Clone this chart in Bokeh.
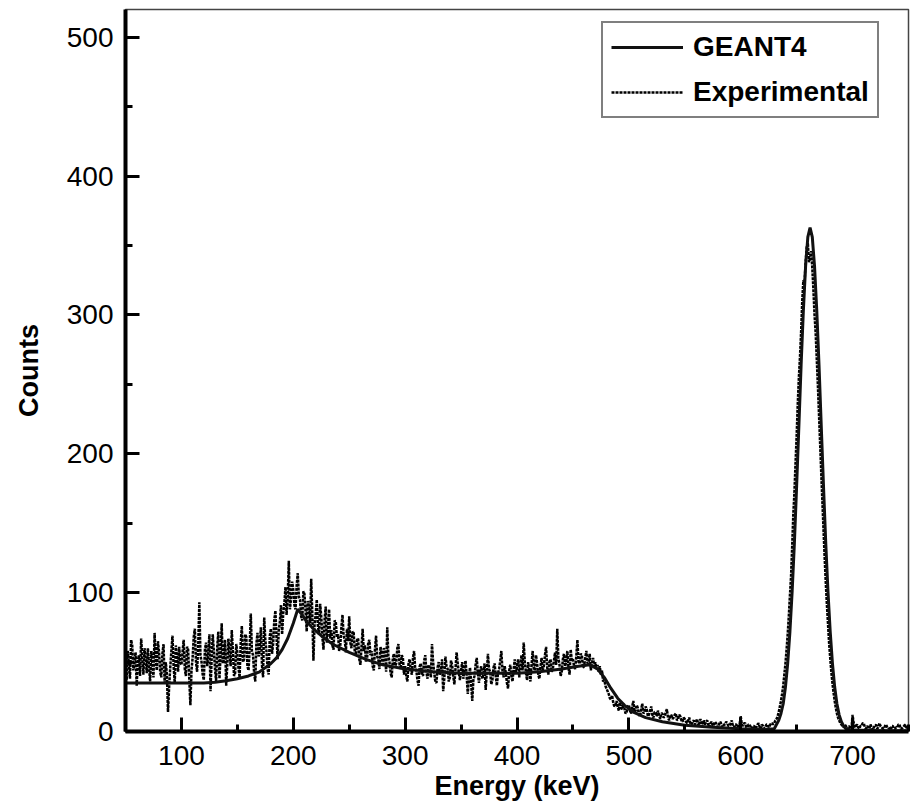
from bokeh.plotting import figure
from bokeh.models import Range1d, Legend, LegendItem, FixedTicker
from bokeh.embed import file_html
from bokeh.resources import INLINE

# ---------------- data ----------------
exp_energy = list(range(50, 751))  # 1 keV bins, 50..750
exp_counts = [
    # 50-99
    45, 37, 58, 49, 38, 66, 62, 44, 49, 57, 33, 51, 55, 40, 67, 53, 41, 60, 52, 42,
    60, 47, 36, 58, 48, 39, 71, 52, 44, 65, 57, 43, 39, 56, 63, 35, 50, 41, 14, 32,
    46, 58, 69, 47, 35, 62, 54, 43, 61, 49,
    # 100-149
    48, 57, 66, 45, 40, 61, 59, 38, 19, 44, 53, 68, 74, 50, 43, 62, 93, 55, 50, 41,
    37, 59, 64, 47, 56, 70, 29, 52, 70, 58, 45, 36, 61, 72, 38, 55, 78, 49, 52, 66,
    33, 48, 67, 56, 47, 73, 58, 40, 42, 63,
    # 150-199
    57, 46, 39, 64, 76, 50, 52, 70, 68, 47, 44, 60, 85, 58, 55, 42, 36, 63, 71, 54,
    60, 75, 48, 39, 82, 66, 58, 45, 41, 69, 74, 56, 63, 80, 87, 68, 52, 73, 79, 91,
    70, 85, 92, 104, 84, 97, 123, 88, 96, 108,
    # 200-249
    102, 91, 88, 105, 114, 97, 95, 83, 80, 101, 99, 86, 72, 94, 90, 78, 110, 85, 51, 77,
    84, 95, 76, 70, 92, 83, 68, 59, 81, 90, 64, 74, 88, 67, 73, 62, 59, 80, 79, 68,
    70, 58, 62, 75, 84, 69, 66, 57, 74, 65,
    # 250-299
    83, 64, 60, 72, 71, 57, 55, 66, 67, 52, 48, 61, 74, 58, 62, 50, 53, 64, 66, 55,
    58, 47, 44, 59, 69, 54, 52, 45, 61, 56, 47, 60, 57, 43, 75, 55, 50, 42, 39, 53,
    56, 46, 49, 60, 63, 48, 45, 55, 53, 41,
    # 300-349
    47, 40, 36, 49, 52, 44, 41, 53, 58, 45, 44, 37, 33, 47, 49, 42, 40, 51, 55, 43,
    38, 48, 46, 39, 63, 50, 42, 36, 35, 46, 50, 41, 43, 52, 29, 38, 54, 47, 45, 36,
    39, 51, 48, 40, 34, 45, 57, 49, 42, 37,
    # 350-399
    44, 50, 38, 45, 51, 40, 27, 39, 46, 35, 22, 37, 40, 48, 53, 42, 35, 44, 47, 38,
    41, 49, 30, 43, 56, 45, 43, 34, 37, 46, 49, 40, 33, 42, 45, 51, 58, 44, 39, 47,
    42, 35, 31, 44, 48, 40, 36, 45, 52, 43,
    # 400-449
    46, 52, 39, 47, 55, 44, 64, 50, 42, 37, 50, 43, 36, 48, 58, 46, 44, 55, 49, 41,
    38, 47, 53, 44, 47, 55, 61, 46, 41, 50, 52, 43, 45, 51, 57, 48, 74, 53, 48, 40,
    43, 52, 56, 47, 50, 58, 46, 41, 59, 51,
    # 450-499
    52, 47, 45, 54, 66, 50, 49, 56, 55, 46, 47, 53, 58, 49, 50, 56, 44, 49, 53, 47,
    50, 45, 48, 43, 47, 41, 44, 36, 38, 33, 31, 29, 27, 24, 23, 26, 21, 18, 19, 22,
    18, 15, 21, 17, 16, 20, 17, 13, 14, 18,
    # 500-549
    19, 15, 13, 18, 22, 14, 15, 19, 17, 12, 11, 16, 20, 13, 14, 18, 16, 11, 12, 15,
    18, 12, 10, 14, 14, 11, 15, 12, 9, 13, 13, 10, 11, 14, 16, 10, 8, 11, 12, 9,
    10, 12, 13, 8, 9, 12, 11, 8, 7, 10,
    # 550-599
    9, 7, 6, 8, 10, 6, 5, 7, 8, 5, 7, 9, 4, 6, 9, 5, 6, 8, 5, 7,
    8, 5, 3, 6, 7, 4, 5, 7, 6, 3, 4, 6, 7, 4, 3, 5, 5, 7, 6, 4,
    4, 6, 8, 4, 3, 5, 5, 3, 4, 5,
    # 600-649
    11, 5, 4, 6, 6, 3, 3, 5, 5, 3, 2, 4, 4, 2, 3, 5, 6, 3, 2, 5,
    4, 2, 3, 5, 5, 3, 4, 6, 6, 5, 6, 8, 9, 11, 14, 18, 22, 27, 33, 41,
    49, 59, 70, 83, 98, 112, 133, 156, 172, 193,
    # 650-699
    213, 236, 255, 270, 288, 310, 325, 322, 338, 349, 352, 338, 341, 346, 334, 318, 300, 287, 268, 249,
    228, 207, 186, 166, 146, 126, 108, 92, 78, 64, 53, 43, 35, 28, 22, 17, 13, 10, 8, 6,
    5, 4, 3, 5, 4, 2, 2, 4, 3, 2,
    # 700-750
    12, 6, 3, 4, 5, 3, 2, 4, 4, 6, 6, 3, 2, 4, 3, 2, 5, 3, 1, 3,
    4, 5, 2, 3, 6, 4, 3, 2, 2, 4, 5, 3, 3, 2, 1, 4, 4, 2, 2, 3,
    3, 5, 5, 2, 2, 3, 4, 5, 3, 2, 5,
]

geant_energy = [
    50, 60, 70, 80, 90, 100, 110, 120, 130, 140,
    150, 160, 170, 175, 180, 185, 190, 195, 200, 204,
    208, 212, 218, 225, 235, 250, 265, 280, 300, 325,
    350, 375, 400, 420, 440, 455, 465, 472, 478, 484,
    490, 496, 504, 515, 530, 550, 575, 600, 620, 630,
] + list(range(632, 696, 2)) + [700, 725, 750]
geant_counts = [
    35, 35, 35, 35, 35, 35, 35, 35, 35.5, 36.5,
    38, 40, 43, 46, 49, 53, 59, 67, 78, 88,
    84, 79, 74, 69, 63, 57, 52, 48, 45, 43,
    42, 42, 42, 43, 45, 47, 48, 45, 39, 31,
    24, 19, 14, 10, 7, 4.5, 3, 2, 1.5, 2,
    5, 8, 13, 20, 32, 49, 72, 101, 136, 177,
    220, 264, 303, 335, 356, 363, 356, 335, 303, 264,
    220, 177, 136, 101, 72, 49, 32, 20, 12, 7,
    4, 2,
    1, 0.5, 0.5,
]

x_ticks = [100, 200, 300, 400, 500, 600, 700]
y_ticks = [0, 100, 200, 300, 400, 500]
x_minor = [50, 150, 250, 350, 450, 550, 650, 750]
y_minor = [50, 150, 250, 350, 450]

FONT = "Liberation Sans"

p = figure(width=910, height=809, output_backend="svg", toolbar_location=None,
           x_range=Range1d(50, 750), y_range=Range1d(0, 520))
p.min_border_left = 125
p.min_border_right = 2
p.min_border_top = 9
p.min_border_bottom = 78
p.background_fill_color = "white"
p.border_fill_color = "white"
p.outline_line_color = "#444444"
p.outline_line_width = 1.5
p.xgrid.visible = False
p.ygrid.visible = False

exp_r = p.line(exp_energy, exp_counts, line_color="black", line_width=2.5, line_dash="3 1")
geant_r = p.line(geant_energy, geant_counts, line_color="#111111", line_width=3)

for ax in (p.xaxis[0], p.yaxis[0]):
    ax.axis_line_width = 4
    ax.axis_line_color = "black"
    ax.major_tick_in = 14
    ax.major_tick_out = 0
    ax.minor_tick_in = 7
    ax.minor_tick_out = 0
    ax.major_tick_line_width = 3
    ax.minor_tick_line_width = 3
    ax.major_tick_line_color = "black"
    ax.minor_tick_line_color = "black"
    ax.major_label_text_font = FONT
    ax.major_label_text_font_size = "28px"
    ax.major_label_text_color = "black"
    ax.axis_label_text_font = FONT
    ax.axis_label_text_font_size = "27px"
    ax.axis_label_text_font_style = "bold"
    ax.axis_label_text_color = "black"

p.xaxis[0].ticker = FixedTicker(ticks=x_ticks, minor_ticks=x_minor)
p.yaxis[0].ticker = FixedTicker(ticks=y_ticks, minor_ticks=y_minor)
p.xaxis[0].axis_label = "Energy (keV)"
p.yaxis[0].axis_label = "Counts"
p.xaxis[0].major_label_standoff = 14
p.xaxis[0].axis_label_standoff = 3
p.yaxis[0].major_label_standoff = 12
p.yaxis[0].axis_label_standoff = 20

legend = Legend(items=[LegendItem(label="GEANT4", renderers=[geant_r]),
                       LegendItem(label="Experimental", renderers=[exp_r])],
                location=(476, 613))
legend.border_line_color = "black"
legend.border_line_width = 2
legend.background_fill_color = "white"
legend.background_fill_alpha = 1
legend.label_text_font = FONT
legend.label_text_font_size = "28px"
legend.label_text_font_style = "bold"
legend.label_text_color = "black"
legend.padding = 8
legend.spacing = 13
legend.label_height = 30
legend.glyph_height = 30
legend.glyph_width = 72
legend.label_standoff = 10
legend.margin = 0
p.add_layout(legend)

open("out.html", "w").write(file_html(p, INLINE))
